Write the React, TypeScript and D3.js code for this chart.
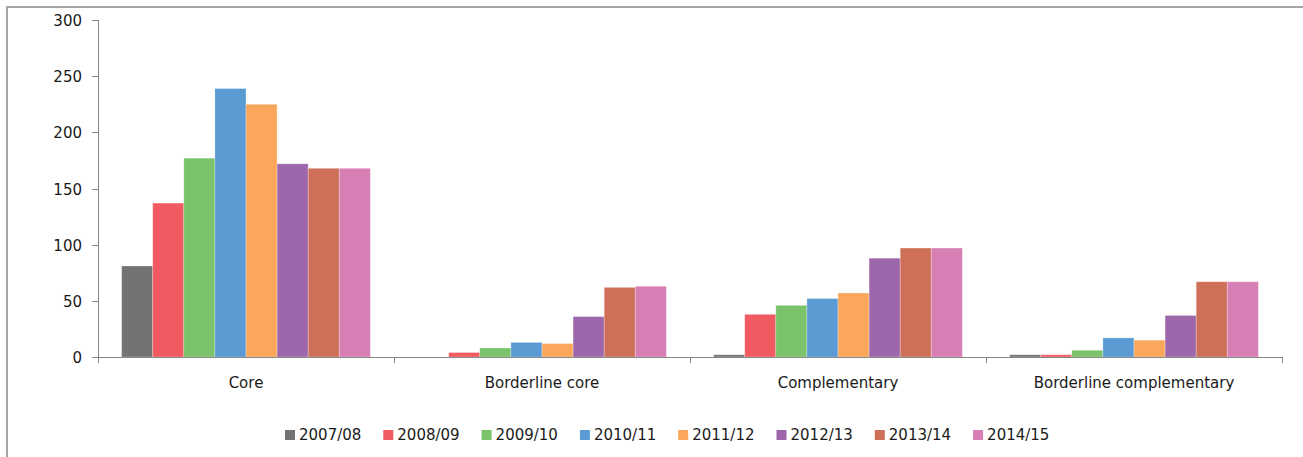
import { useMemo } from 'react'
import * as d3 from 'd3'

const categories = ['Core', 'Borderline core', 'Complementary', 'Borderline complementary']
const years = ['2007/08', '2008/09', '2009/10', '2010/11', '2011/12', '2012/13', '2013/14', '2014/15']
const colors = ['#737373', '#f15a60', '#7ac36a', '#5a9bd4', '#faa75b', '#9e67ab', '#ce7058', '#d77fb4']

// one array per year, values in category order
const v2007 = [81, 0, 2, 2]
const v2008 = [137, 4, 38, 2]
const v2009 = [177, 8, 46, 6]
const v2010 = [239, 13, 52, 17]
const v2011 = [225, 12, 57, 15]
const v2012 = [172, 36, 88, 37]
const v2013 = [168, 62, 97, 67]
const v2014 = [168, 63, 97, 67]
const series = [v2007, v2008, v2009, v2010, v2011, v2012, v2013, v2014]

const yTicks = [0, 50, 100, 150, 200, 250, 300]

const W = 1303
const H = 457
const FONT = '"DejaVu Sans", Verdana, sans-serif'

export default function App() {
  const margin = useMemo(() => ({ top: 20, right: 21, bottom: 100, left: 98 }), [])
  const innerW = W - margin.left - margin.right
  const innerH = H - margin.top - margin.bottom

  const { x0, x1, y } = useMemo(() => {
    const x0 = d3.scaleBand<string>().domain(categories).range([0, innerW]).padding(0)
    const x1 = d3
      .scaleBand<string>()
      .domain(years)
      .range([0, x0.bandwidth()])
      .paddingInner(0)
      .paddingOuter(0.76)
    const y = d3.scaleLinear().domain([0, 300]).range([innerH, 0])
    return { x0, x1, y }
  }, [innerW, innerH])

  const legendStep = 98.3
  const legendX = 285

  return (
    <div style={{ position: 'fixed', left: 0, top: 0 }}>
      <svg width={W} height={H} style={{ display: 'block', fontFamily: FONT }}>
        <rect x={0} y={0} width={W} height={H} fill="#fff" />
        {/* frame */}
        <path d={`M7,${H + 5}V7H${W + 5}`} fill="none" stroke="#a6a6a6" strokeWidth={2} />

        <g transform={`translate(${margin.left},${margin.top})`}>
          {/* bars */}
          {series.map((vals, si) => (
            <g key={years[si]} fill={colors[si]}>
              {vals.map((v, ci) =>
                v > 0 ? (
                  <rect
                    key={categories[ci]}
                    x={(x0(categories[ci]) ?? 0) + (x1(years[si]) ?? 0)}
                    y={y(v)}
                    width={x1.bandwidth()}
                    height={innerH - y(v)}
                    stroke="#ffffff"
                    strokeOpacity={0.35}
                    strokeWidth={0.8}
                  />
                ) : null
              )}
            </g>
          ))}

          {/* y axis */}
          <line x1={0.5} x2={0.5} y1={y(300)} y2={innerH} stroke="#868686" />
          {yTicks.map((t) => (
            <g key={t} transform={`translate(0,${Math.round(y(t)) + 0.5})`}>
              <line x1={-6} x2={0} stroke="#868686" />
              <text x={-16} dy="0.36em" textAnchor="end" fontSize={15} fill="#1a1a1a">
                {t}
              </text>
            </g>
          ))}

          {/* x axis */}
          <line x1={0} x2={innerW} y1={innerH + 0.5} y2={innerH + 0.5} stroke="#868686" />
          {[...categories.map((c) => x0(c) ?? 0), innerW].map((px, i) => (
            <line
              key={i}
              x1={Math.round(px) + 0.5}
              x2={Math.round(px) + 0.5}
              y1={innerH}
              y2={innerH + 6}
              stroke="#868686"
            />
          ))}
          {categories.map((c) => (
            <text
              key={c}
              x={(x0(c) ?? 0) + x0.bandwidth() / 2}
              y={innerH + 31}
              textAnchor="middle"
              fontSize={15}
              fill="#1a1a1a"
            >
              {c}
            </text>
          ))}
        </g>

        {/* legend */}
        <g transform="translate(0,430)">
          {years.map((yr, i) => (
            <g key={yr} transform={`translate(${legendX + i * legendStep},0)`}>
              <rect x={0} y={0} width={10} height={10} fill={colors[i]} />
              <text x={14} y={9.5} fontSize={15} fill="#1a1a1a">
                {yr}
              </text>
            </g>
          ))}
        </g>
      </svg>
    </div>
  )
}
